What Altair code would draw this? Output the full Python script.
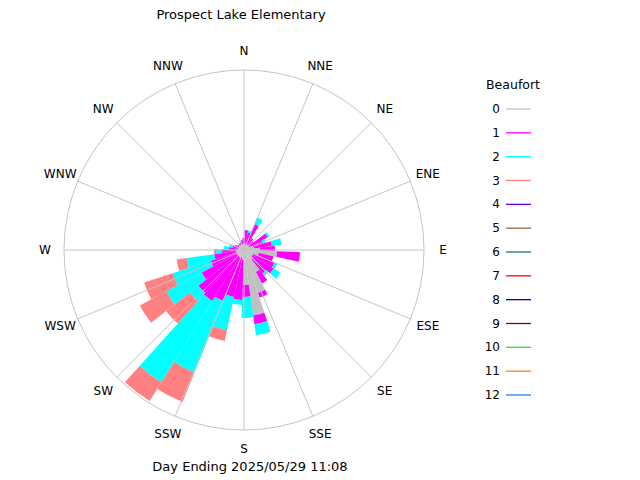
import math
import altair as alt
import pandas as pd

# ---- data (radial units: outer ring = 180) ----
directions = list(range(-3, 357, 10))         # bin centres, degrees from north
# radial length contributed by each Beaufort class in every direction bin
beaufort0 = [6, 6, 6, 6, 6, 6, 6, 8, 10, 16, 33, 15, 10, 10, 12, 25, 45, 66,
             35, 10, 8, 8, 8, 8, 8, 8, 8, 8, 6, 6, 6, 6, 6, 6, 6, 6]
beaufort1 = [6, 14, 12, 22, 8, 6, 21, 12, 18, 15, 23, 15, 23, 25, 18, 13, 5, 9,
             12, 40, 40, 47, 52, 50, 40, 27, 22, 14, 9, 6, 4, 2, 2, 2, 2, 4]
beaufort2 = [0, 0, 2, 7, 0, 0, 2, 3, 10, 0, 0, 0, 3, 8, 3, 0, 0, 11,
             21, 5, 34, 77, 96, 11, 40, 40, 28, 6, 5, 3, 0, 0, 0, 0, 2, 0]
beaufort3 = [0, 0, 0, 0, 0, 0, 0, 0, 0, 0, 0, 0, 0, 0, 0, 0, 0, 0,
             0, 0, 11, 32, 22, 30, 30, 30, 10, 2, 0, 0, 0, 0, 0, 0, 0, 0]

compass = ["N", "NNE", "NE", "ENE", "E", "ESE", "SE", "SSE",
           "S", "SSW", "SW", "WSW", "W", "WNW", "NW", "NNW"]
legend_levels = list(range(13))
legend_colors = ["#c0c0c0", "#ff00ff", "#00ffff", "#ff8080", "#7000e0",
                 "#a0643a", "#1a7a64", "#e01010", "#0000d0", "#8b0000",
                 "#22ee22", "#ff8020", "#1e80f0"]
title_text = "Prospect Lake Elementary"
caption_text = "Day Ending 2025/05/29 11:08"

RING = 180
BIN = 10

# ---- build tables ----
rows = []
series = [beaufort0, beaufort1, beaufort2, beaufort3]
for i, d in enumerate(directions):
    base = 0
    for lvl, s in enumerate(series):
        v = s[i]
        if v > 0:
            rows.append({"dir": d, "bf": str(lvl), "a0": d - BIN / 2,
                         "a1": d + BIN / 2, "r0": base, "r1": base + v})
        base += v
rose_df = pd.DataFrame(rows)

spokes = pd.DataFrame({
    "x0": [0.0] * 16, "y0": [0.0] * 16,
    "x1": [RING * math.sin(math.radians(22.5 * k)) for k in range(16)],
    "y1": [RING * math.cos(math.radians(22.5 * k)) for k in range(16)],
})
LR = 199
labels_df = pd.DataFrame({
    "name": compass,
    "x": [LR * math.sin(math.radians(22.5 * k)) for k in range(16)],
    "y": [LR * math.cos(math.radians(22.5 * k)) for k in range(16)],
})

legend_df = pd.DataFrame({"level": legend_levels,
                          "bf": [str(l) for l in legend_levels],
                          "label": [str(l) for l in legend_levels]})

FONT = "DejaVu Sans"
xs = alt.Scale(domain=[-RING, RING], range=[56, 416])
ys = alt.Scale(domain=[-RING, RING], range=[422, 62])
cs = alt.Scale(domain=[str(l) for l in legend_levels], range=legend_colors)

petals = alt.Chart(rose_df).mark_arc(stroke=None).encode(
    x=alt.X(datum=0, scale=xs, axis=None),
    y=alt.Y(datum=0, scale=ys, axis=None),
    theta=alt.Theta("a0:Q", scale=alt.Scale(domain=[0, 360], range=[0, 2 * math.pi])),
    theta2="a1:Q",
    radius=alt.Radius("r0:Q", scale=alt.Scale(type="linear", domain=[0, RING], range=[0, RING])),
    radius2="r1:Q",
    color=alt.Color("bf:N", scale=cs, legend=None),
)

spoke_lines = alt.Chart(spokes).mark_rule(color="#c4c4c4", strokeWidth=1).encode(
    x=alt.X("x0:Q", scale=xs, axis=None),
    y=alt.Y("y0:Q", scale=ys, axis=None),
    x2="x1:Q", y2="y1:Q",
)

ring = alt.Chart(pd.DataFrame({"r": [RING]})).mark_arc(
    filled=False, stroke="#c4c4c4", strokeWidth=1, fill=None).encode(
    x=alt.X(datum=0, scale=xs, axis=None),
    y=alt.Y(datum=0, scale=ys, axis=None),
    theta=alt.value(0), theta2=alt.value(2 * math.pi),
    radius=alt.Radius("r:Q", scale=alt.Scale(type="linear", domain=[0, RING], range=[0, RING])),
)

dir_labels = alt.Chart(labels_df).mark_text(
    font=FONT, fontSize=12, color="black", align="center", baseline="middle").encode(
    x=alt.X("x:Q", scale=xs, axis=None),
    y=alt.Y("y:Q", scale=ys, axis=None),
    text="name:N",
)

rose = alt.layer(petals, spoke_lines, ring, dir_labels)

ly = alt.Scale(domain=[0, 12], range=[101, 387])
leg_text = alt.Chart(legend_df).mark_text(
    font=FONT, fontSize=12, color="black", align="right", baseline="middle").encode(
    x=alt.value(492),
    y=alt.Y("level:Q", scale=ly, axis=None),
    text="label:N",
)
leg_lines = alt.Chart(legend_df).mark_rule(strokeWidth=1.3).encode(
    x=alt.value(498), x2=alt.value(523),
    y=alt.Y("level:Q", scale=ly, axis=None),
    color=alt.Color("bf:N", scale=cs, legend=None),
)
leg_title = alt.Chart(pd.DataFrame({"t": ["Beaufort"]})).mark_text(
    font=FONT, fontSize=12.5, color="black", align="center", baseline="middle").encode(
    x=alt.value(505), y=alt.value(77), text="t:N")
top_title = alt.Chart(pd.DataFrame({"t": [title_text]})).mark_text(
    font=FONT, fontSize=13, color="black", align="center", baseline="middle").encode(
    x=alt.value(233), y=alt.value(7), text="t:N")
bottom_caption = alt.Chart(pd.DataFrame({"t": [caption_text]})).mark_text(
    font=FONT, fontSize=13, color="black", align="center", baseline="middle").encode(
    x=alt.value(242), y=alt.value(459), text="t:N")

legend = alt.layer(leg_text, leg_lines, leg_title, top_title, bottom_caption)

chart = alt.layer(rose, legend).resolve_scale(
    x="independent", y="independent"
).properties(
    width=624, height=466, padding=0, autosize="none", background="white"
).configure_view(stroke=None)

chart.save("out.html", embed_options={"renderer": "svg", "actions": False})
